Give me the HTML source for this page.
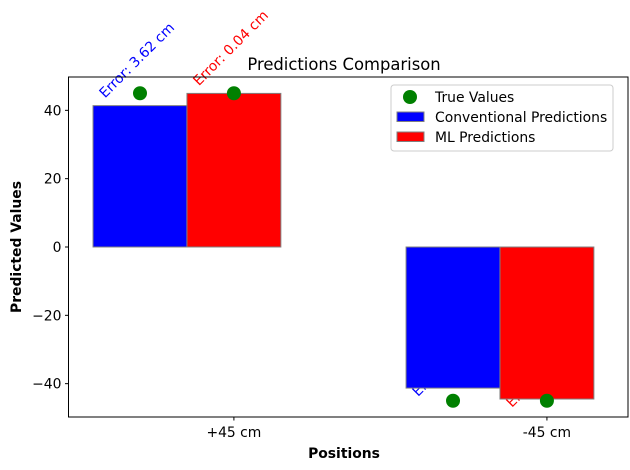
<!DOCTYPE html>
<html><head><meta charset="utf-8"><style>
body{margin:0;background:#fff}
svg{display:block;font-family:"DejaVu Sans","Liberation Sans",sans-serif}
</style></head><body>
<svg id="c" width="630" height="470" xmlns="http://www.w3.org/2000/svg"></svg>
<script>
const categories = ["+45 cm", "-45 cm"];
const trueValues = [45, -45];
const convValues = [41.38, -41.3];
const mlValues = [44.96, -44.5];
const convErrors = ["Error: 3.62 cm", "Error: 3.70 cm"];
const mlErrors = ["Error: 0.04 cm", "Error: 0.50 cm"];
const yTicks = [-40, -20, 0, 20, 40];

const NS = "http://www.w3.org/2000/svg";
const svg = document.getElementById('c');
const L = 68.5, R = 628, T = 77, B = 417;
const xmin = -0.2284, xmax = 1.559, ymin = -49.76, ymax = 49.76;
const bw = 0.3;
function xs(v){ return L + (v - xmin) / (xmax - xmin) * (R - L); }
function ys(v){ return B - (v - ymin) / (ymax - ymin) * (B - T); }
function mk(tag, attrs, parent){
  const e = document.createElementNS(NS, tag);
  for (const k in attrs) e.setAttribute(k, attrs[k]);
  (parent || svg).appendChild(e);
  return e;
}

function errText(txt, cx, v, color){
  const w = 78;
  const by = ys(v) + (v < 0 ? 12 : -4);
  const x0 = cx - w/2 + 4, y0 = by - 3;
  const t = mk('text', {x: x0, y: y0, fill: color, 'font-size': 13.9,
    transform: `rotate(-45 ${x0} ${y0})`});
  
  
  t.textContent = txt;
}
categories.forEach((c, i) => {
  errText(convErrors[i], xs(i), convValues[i], 'blue');
  errText(mlErrors[i], xs(i + bw), mlValues[i], 'red');
});

categories.forEach((c, i) => {
  [[convValues[i], i, 'blue', 'conventional-bar'], [mlValues[i], i + bw, 'red', 'ml-bar']].forEach(([v, x, col, nm]) => {
    const y0 = ys(Math.max(v, 0)), y1 = ys(Math.min(v, 0));
    const r = mk('rect', {x: xs(x - bw/2), y: y0, width: xs(x + bw/2) - xs(x - bw/2), height: y1 - y0, fill: col, stroke: '#808080', 'stroke-width': 1});
    
    
  });
});
categories.forEach((c, i) => {
  [i, i + bw].forEach(x => {
    const m = mk('circle', {cx: xs(x), cy: ys(trueValues[i]), r: 7, fill: 'green'});
    
    
  });
});

const f = mk('rect', {x: L, y: T, width: R - L, height: B - T, fill: 'none', stroke: '#000', 'stroke-width': 1});



yTicks.forEach(v => {
  const y = ys(v);
  mk('line', {x1: L - 3.5, x2: L, y1: y, y2: y, stroke: '#000'});
  const t = mk('text', {x: L - 7, y: y + 5, 'text-anchor': 'end', 'font-size': 13.9});
  
  
  t.textContent = v < 0 ? '\u2212' + Math.abs(v) : String(v);
});
categories.forEach((c, i) => {
  const x = xs(i + bw);
  mk('line', {x1: x, x2: x, y1: B, y2: B + 3.5, stroke: '#000'});
  const t = mk('text', {x: x, y: B + 20, 'text-anchor': 'middle', 'font-size': 13.9});
  
  
  t.textContent = c;
});

let t;
t = mk('text', {x: 344, y: 70, 'text-anchor': 'middle', 'font-size': 16.4});


t.textContent = 'Predictions Comparison';
t = mk('text', {x: 344, y: 458, 'text-anchor': 'middle', 'font-size': 13.9, 'font-weight': 'bold'});


t.textContent = 'Positions';
t = mk('text', {x: 21, y: 247, 'text-anchor': 'middle', 'font-size': 13.9, 'font-weight': 'bold', transform: 'rotate(-90 21 247)'});


t.textContent = 'Predicted Values';

const lg = mk('g', {});


mk('rect', {x: 391, y: 85, width: 222, height: 66, rx: 3, fill: '#fff', 'fill-opacity': 0.8, stroke: '#ccc'}, lg);
mk('circle', {cx: 410, cy: 97, r: 7, fill: 'green'}, lg);
mk('rect', {x: 397, y: 112, width: 27, height: 9.5, fill: 'blue', stroke: '#808080'}, lg);
mk('rect', {x: 397, y: 132, width: 27, height: 9.5, fill: 'red', stroke: '#808080'}, lg);
[['True Values', 102], ['Conventional Predictions', 122], ['ML Predictions', 142]].forEach(([s, y]) => {
  const e = mk('text', {x: 435, y: y, 'font-size': 13.9}, lg);
  
  
  e.textContent = s;
});
</script>
</body></html>
